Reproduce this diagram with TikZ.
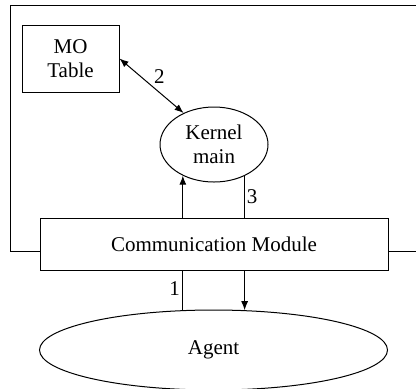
\documentclass[tikz,border=0pt]{standalone}
\usepackage{fontspec}
\setmainfont{Liberation Serif}
\usepackage{tikz}
\usetikzlibrary{%
  positioning
 ,arrows.meta
 ,shapes
}
\tikzstyle{diag}=[x=0.5pt,y=-0.5pt,line width=0.5pt,font=\fontsize{10.5}{12}\selectfont]
\tikzstyle{blk}=[rectangle,draw=black,align=center,inner sep=2pt]
\tikzstyle{ell}=[ellipse,draw=black,align=center,inner sep=2pt]
\tikzstyle{lbl}=[inner sep=1pt]
\tikzstyle{tip}=[-{Latex[length=4.5pt,width=3.5pt]}]

\begin{document}
\begin{tikzpicture}[diag]
      \clip (0,0) rectangle (416,388);
      \node[blk,minimum width=48.5pt,minimum height=33.5pt] (mo) at (70.5,58.5) {MO\\Table};
      \node[ell,minimum width=54pt,minimum height=37.5pt] (kern) at (214,144.5) {Kernel\\main};
      \node[blk,minimum width=174pt,minimum height=26pt] (comm) at (214,244) {Communication Module};
      \node[ell,minimum width=174pt,minimum height=40pt] (agent) at (213.5,350) {Agent};
      % frame
      \coordinate (tr) at (416,5);
      \coordinate (tl) at (10,5);
      \coordinate (bl) at (10,251);
      \coordinate (br) at (416,251);
      \draw (tr) -- (tl) -- (bl) -- (bl -| comm.west);
      \draw (comm.east |- br) -- (br);
      % connectors
      \draw[{Latex[length=4.5pt,width=3.5pt]}-{Latex[length=4.5pt,width=3.5pt]}] (mo.east) -- (kern.134)
        node[lbl,pos=0.5,above right] {2};
      \draw[tip] (comm.north -| kern.225) -- (kern.225);
      \draw (kern.314) -- (comm.north -| kern.314)
        node[lbl,pos=0.5,right] {3};
      \draw (comm.south -| agent.128) -- (agent.128)
        node[lbl,pos=0.45,left] {1};
      \draw[tip] (comm.south -| agent.52) -- (agent.52);
    \end{tikzpicture}
\end{document}
